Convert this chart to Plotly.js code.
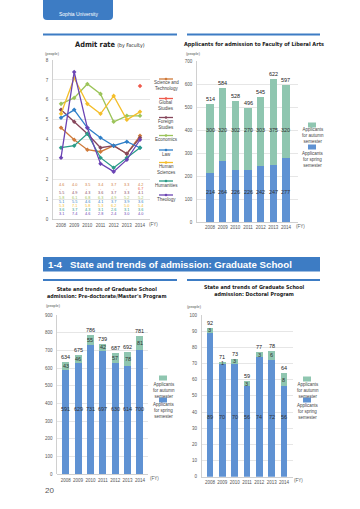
<!DOCTYPE html>
<html><head><meta charset="utf-8">
<script src="https://cdn.plot.ly/plotly-3.0.1.min.js"></script>
<style>html,body{margin:0;padding:0;background:#fff;}#chart{width:360px;height:509px;}</style>
</head><body><div id="chart"></div>
<script>
// ---------- DATA ----------
const years = [2008, 2009, 2010, 2011, 2012, 2013, 2014];
const yearLabels = ['2008', '2009', '2010', '2011', '2012', '2013', '2014'];

const faculties = ['Science and Technology', 'Global Studies', 'Foreign Studies', 'Economics', 'Law', 'Human Sciences', 'Humanities', 'Theology'];
const facultyLegend = ['Science and<br>Technology', 'Global<br>Studies', 'Foreign<br>Studies', 'Economics', 'Law', 'Human<br>Sciences', 'Humanities', 'Theology'];

const rateSciTech   = [4.6, 4.0, 3.5, 3.4, 3.7, 3.3, 4.2];
const rateGlobal    = [null, null, null, null, null, null, 6.7];
const rateForeign   = [5.5, 4.9, 4.3, 3.6, 3.7, 3.3, 4.1];
const rateEconomics = [5.8, 6.1, 6.8, 6.3, 4.9, 5.2, 5.2];
const rateLaw       = [5.1, 5.5, 4.6, 4.1, 3.7, 3.9, 3.6];
const rateHumanSci  = [5.3, 7.1, 5.8, 5.3, 6.2, 5.0, 5.4];
const rateHumanities= [3.6, 3.7, 4.3, 3.1, 2.6, 3.1, 3.6];
const rateTheology  = [3.1, 7.4, 4.6, 2.8, 2.4, 3.0, 4.0];
const rateSeries = [rateSciTech, rateGlobal, rateForeign, rateEconomics, rateLaw, rateHumanSci, rateHumanities, rateTheology];

const liberalSpring = [214, 264, 226, 226, 242, 247, 277];
const liberalAutumn = [300, 320, 302, 270, 303, 375, 320];

const masterSpring = [591, 629, 731, 697, 630, 614, 700];
const masterAutumn = [43, 46, 55, 42, 57, 78, 81];

const doctorSpring = [89, 70, 70, 56, 74, 72, 56];
const doctorAutumn = [3, 1, 3, 3, 3, 6, 8];

// ---------- STYLE ----------
const facultyColors = ['#cf7a3a', '#ef5a4c', '#86475c', '#9cc45a', '#2f7fc8', '#f4be2a', '#2a9c88', '#6b44b4'];
const cAutumn = '#8fc6b0', cSpring = '#5f92d3', cBlue = '#3d7cc4';
const baseFam = 'Liberation Sans, Arial, sans-serif';
const tickFont = {family: baseFam, size: 4.5, color: '#555'};
const smallFont = {family: baseFam, size: 4.5, color: '#444'};
const titleFam = 'DejaVu Sans Condensed, Liberation Sans Narrow, sans-serif';
const W = 360, H = 509;
const px = x => x / W, py = y => 1 - y / H;

const traces = [];
rateSeries.forEach((s, i) => {
  traces.push({type: 'scatter', mode: 'lines+markers', x: years, y: s, name: faculties[i],
    xaxis: 'x', yaxis: 'y', connectgaps: false, showlegend: false,
    line: {color: facultyColors[i], width: 1.3}, marker: {color: facultyColors[i], size: 3.5, symbol: 'diamond'}});
});
function barPair(spring, autumn, xa, ya) {
  traces.push({type: 'bar', x: years, y: spring, xaxis: xa, yaxis: ya, width: 0.56, marker: {color: cSpring}, showlegend: false, name: 'Applicants for spring semester'});
  traces.push({type: 'bar', x: years, y: autumn, xaxis: xa, yaxis: ya, width: 0.56, marker: {color: cAutumn}, showlegend: false, name: 'Applicants for autumn semester'});
}
barPair(liberalSpring, liberalAutumn, 'x2', 'y2');
barPair(masterSpring, masterAutumn, 'x3', 'y3');
barPair(doctorSpring, doctorAutumn, 'x4', 'y4');

const annotations = [];
const shapes = [];
function txt(x, y, text, font, opts) {
  annotations.push(Object.assign({xref: 'paper', yref: 'paper', x: px(x), y: py(y), text: text, showarrow: false,
    font: font, xanchor: 'center', yanchor: 'middle'}, opts || {}));
}
function line(x0, y0, x1, y1, color, width) {
  shapes.push({type: 'line', xref: 'paper', yref: 'paper', x0: px(x0), y0: py(y0), x1: px(x1), y1: py(y1), line: {color: color, width: width}});
}
function rect(x0, y0, x1, y1, color) {
  shapes.push({type: 'rect', xref: 'paper', yref: 'paper', x0: px(x0), y0: py(y0), x1: px(x1), y1: py(y1), line: {width: 0}, fillcolor: color});
}

// header
shapes.push({type: 'path', xref: 'paper', yref: 'paper', fillcolor: cBlue, line: {width: 0},
  path: `M ${px(43)},${py(-2)} L ${px(113)},${py(-2)} L ${px(113)},${py(16)} Q ${px(113)},${py(20)} ${px(109)},${py(20)} L ${px(47)},${py(20)} Q ${px(43)},${py(20)} ${px(43)},${py(16)} Z`});
txt(78, 13.5, 'Sophia University', {family: baseFam, size: 5, color: '#fff'});

// titles
line(43, 34.5, 177, 34.5, cBlue, 2);
line(187, 34.5, 320, 34.5, cBlue, 2);
txt(110, 44, '<b>Admit rate</b> <span style="font-size:5.2px">(by Faculty)</span>', {family: titleFam, size: 7.4, color: '#222'});
txt(253.5, 44.5, '<b>Applicants for admission to Faculty of Liberal Arts</b>', {family: titleFam, size: 5.5, color: '#222'});

rect(43, 257, 320, 271.5, cBlue);
txt(46, 264.5, '<b>1-4   State and trends of admission: Graduate School</b>', {family: baseFam, size: 9.7, color: '#fff'}, {xanchor: 'left'});

line(43, 280, 177, 280, cBlue, 2);
line(187, 280, 320, 280, cBlue, 2);
txt(106, 292.5, '<b>State and trends of Graduate School<br>admission: Pre-doctorate/Master\'s Program</b>', {family: titleFam, size: 5.4, color: '#222'});
txt(254, 291, '<b>State and trends of Graduate School<br>admission: Doctoral Program</b>', {family: titleFam, size: 5.4, color: '#222'});

// unit labels
const unitFont = {family: baseFam, size: 3.8, color: '#555'};
txt(43, 54, '(people)', unitFont, {xanchor: 'left'});
txt(184, 54, '(people)', unitFont, {xanchor: 'left'});
txt(44, 305.5, '(people)', unitFont, {xanchor: 'left'});
txt(185, 306.5, '(people)', unitFont, {xanchor: 'left'});
txt(146.5, 225, '(FY)', tickFont, {xanchor: 'left'});
txt(293.5, 226.5, '(FY)', tickFont, {xanchor: 'left'});
txt(148, 478, '(FY)', tickFont, {xanchor: 'left'});
txt(292, 480.5, '(FY)', tickFont, {xanchor: 'left'});
txt(43, 490, '20', {family: baseFam, size: 8, color: '#555'}, {xanchor: 'left'});

// line chart legend (custom)
const legLineY = [79, 98.5, 117.5, 135.5, 150, 162.5, 181, 195];
const legTextY = [85.5, 105, 124.5, 140, 154.5, 170, 185.5, 199.5];
faculties.forEach((f, i) => {
  line(159, legLineY[i], 173, legLineY[i], facultyColors[i], 1.3);
  shapes.push({type: 'circle', xref: 'paper', yref: 'paper', x0: px(164.7), x1: px(167.3), y0: py(legLineY[i] + 1.3), y1: py(legLineY[i] - 1.3), fillcolor: facultyColors[i], line: {width: 0}});
  txt(166, legTextY[i], facultyLegend[i], smallFont);
});

// data table inside line chart
const tableRowY = [1.73, 1.52, 1.31, 1.10, 0.90, 0.69, 0.48, 0.27];
rateSeries.forEach((s, i) => {
  s.forEach((v, j) => {
    annotations.push({xref: 'x', yref: 'y', x: years[j], y: tableRowY[i], text: v == null ? '-' : v.toFixed(1), showarrow: false,
      font: {family: baseFam, size: 3.8, color: facultyColors[i]}});
  });
});

// bar labels
function barLabels(spring, autumn, xa, ya, springY, autumnFixedY) {
  years.forEach((yr, j) => {
    const tot = spring[j] + autumn[j];
    annotations.push({xref: xa, yref: ya, x: yr, y: tot, text: String(tot), showarrow: false, yanchor: 'bottom', yshift: 0,
      font: {family: baseFam, size: 5.5, color: '#222'}});
    annotations.push({xref: xa, yref: ya, x: yr, y: autumnFixedY != null ? autumnFixedY : spring[j] + autumn[j] / 2, text: String(autumn[j]), showarrow: false,
      font: {family: baseFam, size: 5.5, color: '#333'}});
    annotations.push({xref: xa, yref: ya, x: yr, y: springY, text: String(spring[j]), showarrow: false,
      font: {family: baseFam, size: 5.5, color: '#333'}});
  });
}
barLabels(liberalSpring, liberalAutumn, 'x2', 'y2', 132, 400);
barLabels(masterSpring, masterAutumn, 'x3', 'y3', 367, null);
barLabels(doctorSpring, doctorAutumn, 'x4', 'y4', 37, null);

// bar legends
function barLegend(cx, gy, gty, by, bty) {
  rect(cx - 4, gy - 2.5, cx + 4, gy + 2.5, cAutumn);
  txt(cx + 0.5, gty, 'Applicants<br>for autumn<br>semester', smallFont);
  rect(cx - 4, by - 2.5, cx + 4, by + 2.5, cSpring);
  txt(cx + 0.5, bty, 'Applicants<br>for spring<br>semester', smallFont);
}
barLegend(312, 125, 135, 147, 160);
barLegend(163, 378, 390, 400, 410.5);
barLegend(307, 379, 390.5, 400, 411.5);

// axes
function yax(dom, range, dtick, anchor) {
  return {domain: dom, range: range, dtick: dtick, anchor: anchor, showgrid: true, gridcolor: '#d6d6d6', gridwidth: 0.6,
    zeroline: false, showline: true, linecolor: '#c4c4c4', linewidth: 0.8, ticks: '', tickfont: tickFont, ticklabelstandoff: 3, fixedrange: true};
}
function xax(dom, range, anchor) {
  return {domain: dom, range: range, anchor: anchor, tickmode: 'array', tickvals: years, ticktext: yearLabels, showgrid: false, tickangle: 0,
    zeroline: false, showline: true, linecolor: '#c4c4c4', linewidth: 0.8, ticks: '', tickfont: tickFont, ticklabelstandoff: 1, fixedrange: true};
}

const layout = {
  width: W, height: H, margin: {l: 0, r: 0, t: 0, b: 0}, paper_bgcolor: '#fff', plot_bgcolor: 'rgba(0,0,0,0)',
  showlegend: false, barmode: 'stack',
  xaxis: xax([px(53), px(150)], [2007.39, 2014.76], 'y'),
  yaxis: yax([py(219.5), py(60)], [0, 8], 1, 'x'),
  xaxis2: xax([px(197), px(298)], [2006.97, 2014.95], 'y2'),
  yaxis2: yax([py(222), py(61)], [0, 700], 100, 'x2'),
  xaxis3: xax([px(57.3), px(148)], [2007.32, 2014.65], 'y3'),
  yaxis3: yax([py(474.3), py(315)], [0, 900], 100, 'x3'),
  xaxis4: xax([px(201.7), px(293)], [2007.33, 2014.73], 'y4'),
  yaxis4: yax([py(476.7), py(315)], [0, 100], 10, 'x4'),
  annotations: annotations, shapes: shapes
};
Plotly.newPlot('chart', traces, layout, {staticPlot: true, displayModeBar: false});
</script></body></html>
